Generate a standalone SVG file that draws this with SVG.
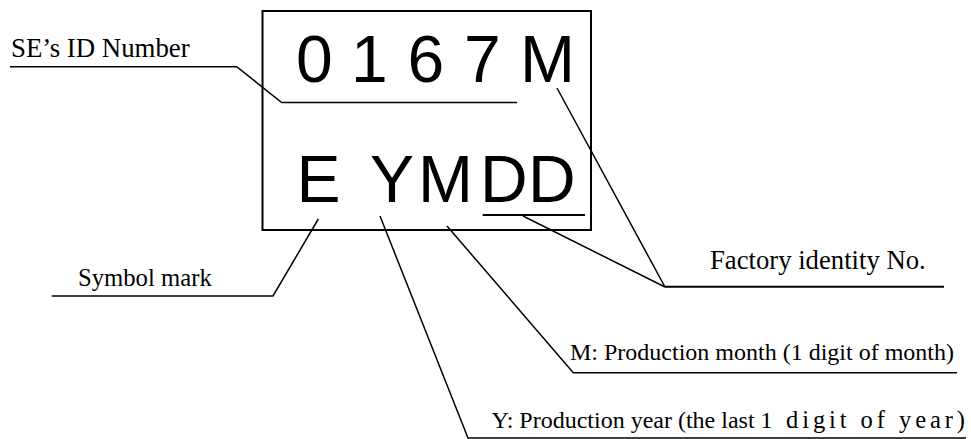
<svg xmlns="http://www.w3.org/2000/svg" width="971" height="439" viewBox="0 0 971 439">
<style>
.lbl{font-family:"Liberation Serif","Times New Roman",serif;fill:#000}
.code{font-family:"Liberation Sans",Arial,sans-serif;font-size:66px;fill:#000}
.ln{fill:none;stroke:#000;stroke-width:1.5;stroke-linejoin:miter}
.ul{fill:none;stroke:#000;stroke-width:2}
</style>
<rect width="971" height="439" fill="#fff"/>
<g id="plate">
<rect x="262.5" y="11" width="328.5" height="219" fill="none" stroke="#000" stroke-width="2"/>
<text class="code" x="296 351 407.5 464 520" y="81.5">0167M</text>
<text class="code" x="296.5 350 370 418 480 528" y="201.5">E YMDD</text>
</g>
<g id="label-se-id">
<text class="lbl" x="11" y="57" font-size="26.8">SE’s ID Number</text>
</g>
<g id="label-symbol">
<text class="lbl" x="78" y="286" font-size="24.7">Symbol mark</text>
</g>
<g id="label-factory">
<text class="lbl" x="710" y="269" font-size="26.7">Factory identity No.</text>
</g>
<g id="label-month">
<text class="lbl" x="570" y="359.5" font-size="24">M: Production month (1 digit of month)</text>
</g>
<g id="label-year">
<text class="lbl" x="491.5" y="427.5" font-size="24">Y: Production year (the last 1</text>
<text class="lbl" x="786" y="427.5" font-size="24.5" textLength="179" lengthAdjust="spacing">digit of year)</text>
</g>
<g id="connectors">
<polyline class="ln" points="10,66.7 236.7,66.7 281.7,102.5 517,102.5"/>
<line class="ul" x1="482.7" y1="215" x2="585" y2="215"/>
<line class="ln" x1="557" y1="88" x2="665" y2="287"/>
<line class="ln" x1="523" y1="216" x2="665" y2="287"/>
<line class="ul" x1="665" y1="286.7" x2="944" y2="286.7"/>
<polyline class="ln" points="318.3,219 273,296 51.7,296"/>
<polyline class="ln" points="380,216 468,438 966,438"/>
<polyline class="ln" points="447,226 573.3,372.7 957,372.7"/>
</g>
</svg>
